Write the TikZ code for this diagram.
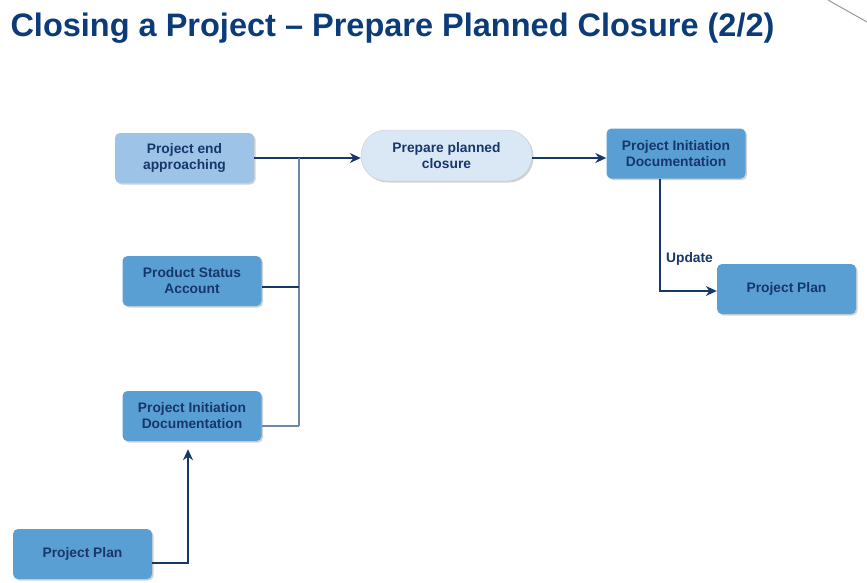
\documentclass[tikz,border=0pt]{standalone}
\usepackage{fontspec}
\setmainfont{Liberation Sans}
\usetikzlibrary{arrows.meta,shadows}
\definecolor{navy}{HTML}{17376B}
\definecolor{titleblue}{HTML}{0B3C78}
\definecolor{boxblue}{HTML}{5A9FD4}
\definecolor{lightbox}{HTML}{9DC3E6}
\definecolor{paleblue}{HTML}{DAE7F4}
\definecolor{greyline}{HTML}{7385A5}
\tikzset{
  boxfont/.style={font=\bfseries\fontsize{13.8}{16}\selectfont},
  box/.style={draw=none, fill=boxblue, rounded corners=5pt, minimum width=139pt, minimum height=50pt,
    align=center, text=navy, boxfont,
    drop shadow={shadow xshift=1.5pt, shadow yshift=-1.5pt, fill=black!30, opacity=0.6}},
  lightboxst/.style={box, fill=lightbox},
  roundbox/.style={box, fill=paleblue, draw=black!20, rounded corners=25pt, minimum width=171pt, minimum height=51pt},
  conn/.style={draw=navy, line width=1.8pt},
  thinconn/.style={draw=navy, line width=1.3pt},
  tip/.style={-{Stealth[length=11pt,width=10pt]}}
}
\begin{document}
\begin{tikzpicture}[x=1pt,y=-1pt]
\useasboundingbox (0,0) rectangle (867,582);
\node[anchor=base west, text=titleblue, font=\bfseries\fontsize{32.5}{38}\selectfont] (title) at (7,36) {Closing a Project -- Prepare Planned Closure (2/2)};
\coordinate (dA) at (828,0);
\coordinate (dB) at (867,22);
\draw[black!40, line width=1pt] (dA) -- (dB);

\node[lightboxst] (pea) at (184.5,158) {Project end\\approaching};
\node[roundbox] (ppc) at (446.5,155.5) {Prepare planned\\closure};
\node[box] (pid1) at (676,153.5) {Project Initiation\\Documentation};
\node[box] (psa) at (192,281) {Product Status\\Account};
\node[box] (pid2) at (192,416) {Project Initiation\\Documentation};
\node[box] (pp1) at (82.5,554) {Project Plan};
\node[box] (pp2) at (786.5,289) {Project Plan};

\coordinate (jtop) at (299,158);
\coordinate (jpsa) at (299,287);
\coordinate (jbot) at (299,426);
\coordinate (jpp) at (188,563);
\coordinate (jupd) at (660,291);

\draw[conn, tip] (pea.east |- jtop) -- (jtop -| ppc.west);
\draw[greyline, line width=1.2pt] (jtop) -- (jbot);
\draw[conn, line width=2.4pt] (psa.east |- jpsa) -- (jpsa);
\draw[greyline, line width=1.2pt] (pid2.east |- jbot) -- (jbot);
\draw[conn, tip] (ppc.east |- 0,158) -- (pid1.west |- 0,158);
\draw[thinconn, tip] (jupd |- pid1.south) -- (jupd) -- (jupd -| pp2.west);
\node[text=navy, boxfont] (upd) at (689.5,259) {Update};
\draw[thinconn, tip] (pp1.east |- jpp) -- (jpp) -- ([yshift=-8pt]jpp |- pid2.south);
\end{tikzpicture}
\end{document}
